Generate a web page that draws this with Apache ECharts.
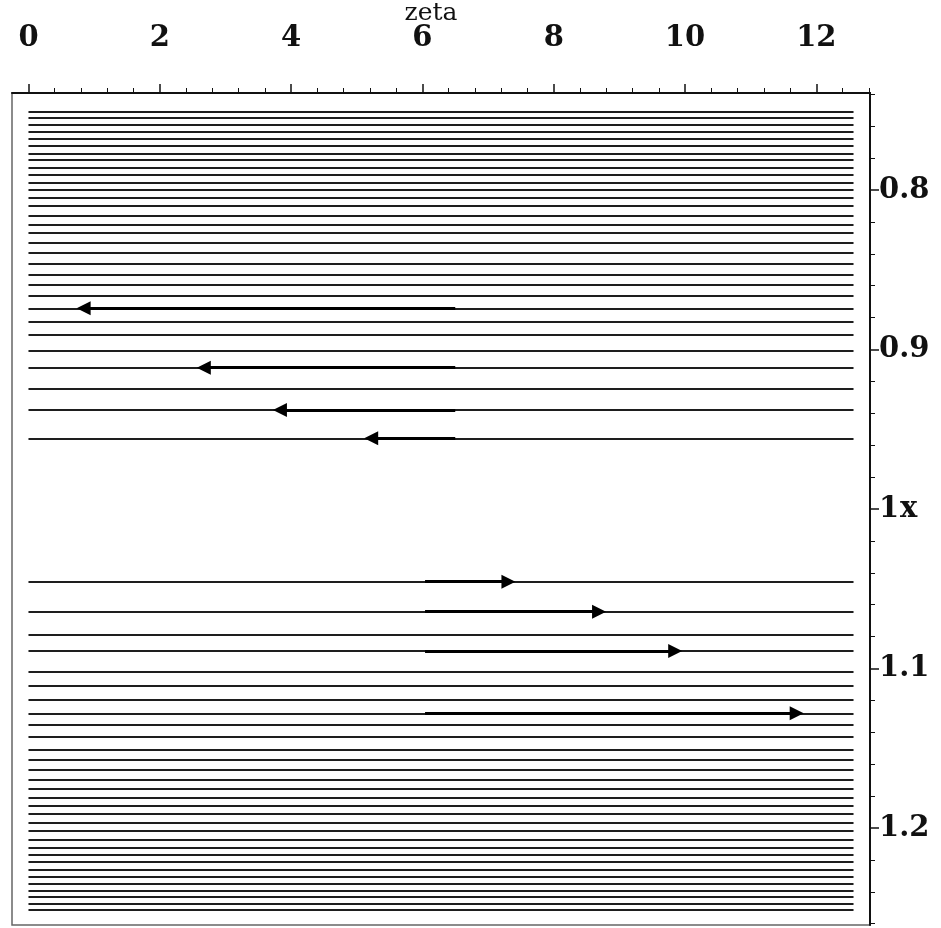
<!DOCTYPE html>
<html>
<head>
<meta charset="utf-8">
<script src="https://cdn.jsdelivr.net/npm/echarts@6/dist/echarts.min.js"></script>
<style>
  html, body { margin: 0; padding: 0; background: #ffffff; }
  #chart { width: 941px; height: 928px; }
</style>
</head>
<body>
<div id="chart"></div>
<script>
// ---- data ----
const zetaStart = 0;
const zetaEnd = 12.566;           // 4*pi
const upperLevels = [0.7509, 0.7550, 0.7592, 0.7638, 0.7676, 0.7722, 0.7770, 0.7812, 0.7860, 0.7906,
                     0.7952, 0.8000, 0.8048, 0.8100, 0.8161, 0.8215, 0.8268, 0.8330, 0.8393, 0.8460,
                     0.8529, 0.8591, 0.8665, 0.8742, 0.8826, 0.8905, 0.9009, 0.9114, 0.9243, 0.9379,
                     0.9557];
const lowerLevels = [1.0456, 1.0644, 1.0790, 1.0890, 1.1020, 1.1110, 1.1197, 1.1281, 1.1350, 1.1428,
                     1.1507, 1.1569, 1.1632, 1.1699, 1.1751, 1.1808, 1.1862, 1.1912, 1.1967, 1.2017,
                     1.2071, 1.2121, 1.2169, 1.2211, 1.2259, 1.2305, 1.2347, 1.2393, 1.2434, 1.2472,
                     1.2514];
const leftArrowLevels = [0.8742, 0.9114, 0.9379, 0.9557];
const leftArrowFrom = 6.50;
const leftArrowTo = [0.84, 2.67, 3.83, 5.22];
const rightArrowLevels = [1.0456, 1.0644, 1.0890, 1.1281];
const rightArrowFrom = 6.04;
const rightArrowTo = [7.31, 8.69, 9.85, 11.70];

const xMajorTicks = [0, 2, 4, 6, 8, 10, 12];
const xMinorTicks = [0.4, 0.8, 1.2, 1.6, 2.4, 2.8, 3.2, 3.6, 4.4, 4.8, 5.2, 5.6, 6.4, 6.8, 7.2, 7.6,
                     8.4, 8.8, 9.2, 9.6, 10.4, 10.8, 11.2, 11.6, 12.4, 12.8];
const yMajorTicks = [0.8, 0.9, 1.0, 1.1, 1.2];
const yMinorTicks = [0.74, 0.76, 0.78, 0.82, 0.84, 0.86, 0.88, 0.92, 0.94, 0.96, 0.98,
                     1.02, 1.04, 1.06, 1.08, 1.12, 1.14, 1.16, 1.18, 1.22, 1.24, 1.26];

const xRange = [-0.251, 12.817];
const yRange = [0.7392, 1.2608];

// ---- build ----
const levels = upperLevels.concat(lowerLevels);
const orbitData = levels.map(v => ({ coords: [[zetaStart, v], [zetaEnd, v]] }));
const arrowData = leftArrowLevels.map((v, i) => ({ coords: [[leftArrowFrom, v], [leftArrowTo[i], v]] }))
  .concat(rightArrowLevels.map((v, i) => ({ coords: [[rightArrowFrom, v], [rightArrowTo[i], v]] })));

const FONT = 'DejaVu Serif';
const labelStyle = { fontFamily: FONT, fontWeight: 'bold', fontSize: 29, color: '#111' };

const chart = echarts.init(document.getElementById('chart'), null, { renderer: 'canvas' });
chart.setOption({
  backgroundColor: '#ffffff',
  animation: false,
  grid: { left: 12, right: 71, top: 93, bottom: 3, show: true, borderColor: '#666', borderWidth: 1.5,
          backgroundColor: 'transparent', containLabel: false, outerBoundsMode: 'none' },
  xAxis: [
    {
      type: 'value', position: 'top', min: xRange[0], max: xRange[1],
      name: 'zeta', nameLocation: 'middle', nameGap: 67, nameMoveOverlap: false,
      nameTextStyle: { fontFamily: FONT, fontSize: 25, color: '#111', padding: [0, 20, 0, 0] },
      axisLine: { show: true, onZero: false, lineStyle: { color: '#111', width: 2 } },
      axisTick: { show: true, inside: false, length: 9, customValues: xMajorTicks, lineStyle: { color: '#111', width: 1.5 } },
      axisLabel: { show: true, margin: 40, customValues: xMajorTicks, formatter: v => String(Math.round(v)), ...labelStyle },
      splitLine: { show: false }
    },
    {
      type: 'value', position: 'top', min: xRange[0], max: xRange[1],
      axisLine: { show: false, onZero: false },
      axisTick: { show: true, inside: false, length: 5, customValues: xMinorTicks, lineStyle: { color: '#111', width: 1 } },
      axisLabel: { show: false },
      splitLine: { show: false }
    }
  ],
  yAxis: [
    {
      type: 'value', position: 'right', inverse: true, min: yRange[0], max: yRange[1],
      name: 'x', nameLocation: 'middle', nameGap: 30, nameRotate: 0, nameMoveOverlap: false,
      nameTextStyle: { fontFamily: FONT, fontWeight: 'bold', fontSize: 29, color: '#111', align: 'left', verticalAlign: 'middle' },
      axisLine: { show: true, onZero: false, lineStyle: { color: '#111', width: 2 } },
      axisTick: { show: true, inside: false, length: 9, customValues: yMajorTicks, lineStyle: { color: '#111', width: 1.5 } },
      axisLabel: { show: true, margin: 9, customValues: yMajorTicks,
                   formatter: v => (Math.abs(v - 1) < 1e-9 ? '1' : v.toFixed(1)), ...labelStyle },
      splitLine: { show: false }
    },
    {
      type: 'value', position: 'right', inverse: true, min: yRange[0], max: yRange[1],
      axisLine: { show: false, onZero: false },
      axisTick: { show: true, inside: false, length: 5, customValues: yMinorTicks, lineStyle: { color: '#111', width: 1 } },
      axisLabel: { show: false },
      splitLine: { show: false }
    }
  ],
  series: [
    {
      type: 'lines', coordinateSystem: 'cartesian2d', xAxisIndex: 0, yAxisIndex: 0,
      polyline: false, silent: true,
      lineStyle: { color: '#1e1e1e', width: 2, opacity: 1 },
      symbol: ['none', 'none'],
      data: orbitData
    },
    {
      type: 'lines', coordinateSystem: 'cartesian2d', xAxisIndex: 0, yAxisIndex: 0,
      polyline: false, silent: true,
      lineStyle: { color: '#000', width: 3, opacity: 1 },
      symbol: ['none', 'path://M5,0 L10,13 L0,13 Z'],
      symbolSize: [14, 14],
      itemStyle: { color: '#000' },
      data: arrowData
    }
  ]
});
</script>
</body>
</html>
